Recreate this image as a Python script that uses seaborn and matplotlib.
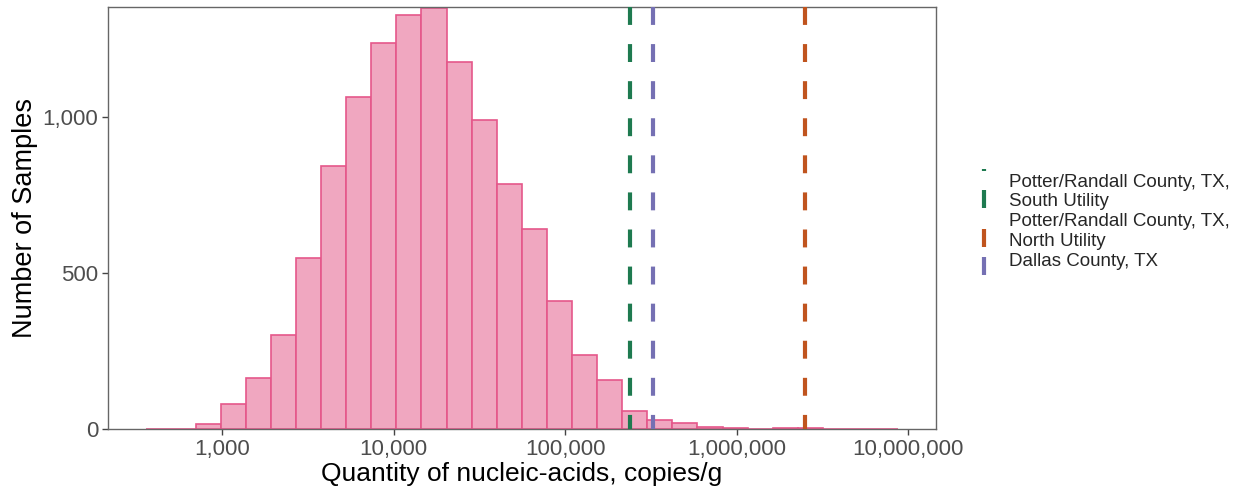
import numpy as np
import pandas as pd
import matplotlib
matplotlib.use("Agg")
import matplotlib.pyplot as plt
import seaborn as sns
from matplotlib.lines import Line2D
from matplotlib.legend_handler import HandlerBase
from matplotlib.ticker import FixedLocator, FuncFormatter, NullLocator

# ---- data ----
bin_counts = [1, 0, 16, 80, 163, 300, 547, 842, 1063, 1235, 1327, 1349, 1176, 990,
              785, 641, 411, 238, 158, 56, 30, 19, 6, 4, 1, 3, 3, 0, 0, 1]
log_lo, log_hi = 2.553, 6.942          # histogram range in log10(copies/g)
site_labels = ["Potter/Randall County, TX,\nSouth Utility",
               "Potter/Randall County, TX,\nNorth Utility",
               "Dallas County, TX"]
site_values = [239000, 2500000, 327000]
site_colors = ["#1E7A50", "#C0541E", "#7570B3"]
x_ticks = [1e3, 1e4, 1e5, 1e6, 1e7]
y_ticks = [0, 500, 1000]

sns.set_theme(style="white")
plt.rcParams["font.family"] = ["Liberation Sans", "DejaVu Sans"]

nbins = len(bin_counts)
w = (log_hi - log_lo) / nbins
centers = 10 ** (log_lo + (np.arange(nbins) + 0.5) * w)
df = pd.DataFrame({"value": centers, "count": bin_counts})

fig = plt.figure(figsize=(12.41, 4.93), dpi=100)
ax = fig.add_axes([0.087, 0.13, 0.667, 0.856])

sns.histplot(data=df, x="value", weights="count", bins=nbins, binrange=(log_lo, log_hi),
             log_scale=True, color="#F0A7C0", edgecolor="#E5578A", linewidth=1.2,
             alpha=1, ax=ax)

for v, c in zip(site_values, site_colors):
    ax.plot([v, v], [1, 0], transform=ax.get_xaxis_transform(), color=c, lw=3,
            dashes=(4.3, 4.6), solid_capstyle="butt", dash_capstyle="butt", zorder=5)

ax.set_xlim(10 ** 2.334, 10 ** 7.161)
ax.set_ylim(0, 1352)
ax.xaxis.set_major_locator(FixedLocator(x_ticks))
ax.xaxis.set_minor_locator(NullLocator())
ax.xaxis.set_major_formatter(FuncFormatter(lambda v, p: f"{int(round(v)):,}"))
ax.yaxis.set_major_locator(FixedLocator(y_ticks))
ax.yaxis.set_major_formatter(FuncFormatter(lambda v, p: f"{int(round(v)):,}"))

for s in ax.spines.values():
    s.set_color("#666666")
    s.set_linewidth(1.0)
ax.tick_params(axis="both", which="major", direction="out", length=4, width=1,
               color="#444444", labelcolor="#4D4D4D", labelsize=16, pad=3,
               bottom=True, left=True)

ax.set_xlabel("Quantity of nucleic-acids, copies/g", fontsize=19, color="black", labelpad=2)
ax.set_ylabel("Number of Samples", fontsize=19.5, color="black", labelpad=3)


class VKeyHandler(HandlerBase):
    def __init__(self, extra=False):
        super().__init__()
        self.extra = extra

    def create_artists(self, legend, orig_handle, xdescent, ydescent, width, height,
                       fontsize, trans):
        x = width / 2 - xdescent
        c = height / 2 - ydescent - 5
        col = orig_handle.get_color()
        arts = [Line2D([x, x], [c - 6.5, c + 6.5], color=col, lw=3,
                       solid_capstyle="butt", transform=trans)]
        if self.extra:
            arts.append(Line2D([x, x], [c + 20.0, c + 21.4], color=col, lw=3,
                               solid_capstyle="butt", transform=trans))
        return arts


handles = [Line2D([], [], color=c) for c in site_colors]
fig.legend(handles, site_labels, loc="center left", bbox_to_anchor=(0.772, 0.55),
           frameon=False, fontsize=13.5, labelspacing=0.15, handletextpad=0.8,
           handlelength=1.0,
           handler_map={handles[0]: VKeyHandler(True), handles[1]: VKeyHandler(),
                        handles[2]: VKeyHandler()})

fig.savefig("out.png", dpi=100)
